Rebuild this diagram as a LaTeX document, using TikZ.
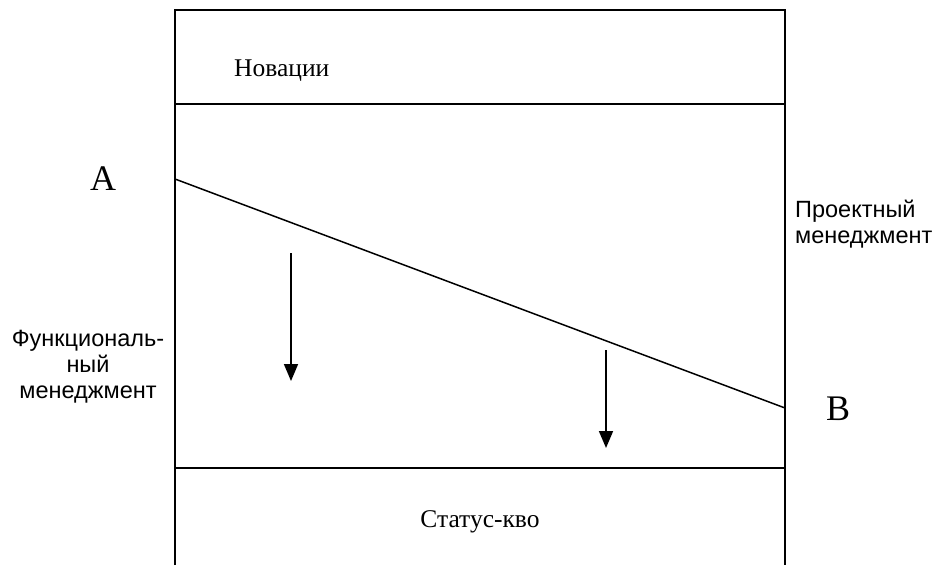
\documentclass[tikz,border=0pt]{standalone}
\usepackage{fontspec}
\setmainfont{Liberation Serif}
\setsansfont{Liberation Sans}
\usetikzlibrary{arrows.meta}
\begin{document}
\begin{tikzpicture}[x=1pt,y=-1pt,
  frame/.style={line width=1.8pt},
  serifl/.style={font=\fontsize{25.5}{30}\selectfont, inner sep=0pt},
  letter/.style={font=\fontsize{36}{40}\selectfont, inner sep=0pt},
  sansl/.style={font=\sffamily\fontsize{23.5}{26}\selectfont, inner sep=0pt, align=center},
  downarrow/.style={line width=1.7pt, -{Triangle[length=17pt,width=14pt]}}]
\useasboundingbox (0,0) rectangle (936,565);
% frame
\coordinate (tl) at (175,10);
\coordinate (tr) at (785,10);
\coordinate (bl) at (175,565);
\coordinate (br) at (785,565);
\draw[frame] (bl) -- (tl) -- (tr) -- (br);
\coordinate (u1) at (175,104);
\coordinate (u2) at (785,104);
\coordinate (d1) at (175,468);
\coordinate (d2) at (785,468);
\draw[frame] (u1) -- (u2);
\draw[frame] (d1) -- (d2);
% diagonal
\coordinate (pa) at (175,179);
\coordinate (pb) at (785,408);
\draw[line width=1.5pt] (pa) -- (pb);
% arrows
\coordinate (a1s) at (291,253);
\coordinate (a1e) at (291,381);
\coordinate (a2s) at (606,350);
\coordinate (a2e) at (606,448);
\draw[downarrow] (a1s) -- (a1e);
\draw[downarrow] (a2s) -- (a2e);
% labels
\node[serifl, anchor=west] (nov) at (234,71) {Новации};
\node[serifl] (sq) at (480,522) {Статус-кво};
\node[letter] (A) at (103,179) {A};
\node[letter] (B) at (838,409) {B};
\node[sansl, anchor=west, align=left] (pm) at (795,224) {Проектный\\менеджмент};
\node[sansl] (fm) at (88,367) {Функциональ-\\ный\\менеджмент};
\end{tikzpicture}
\end{document}
